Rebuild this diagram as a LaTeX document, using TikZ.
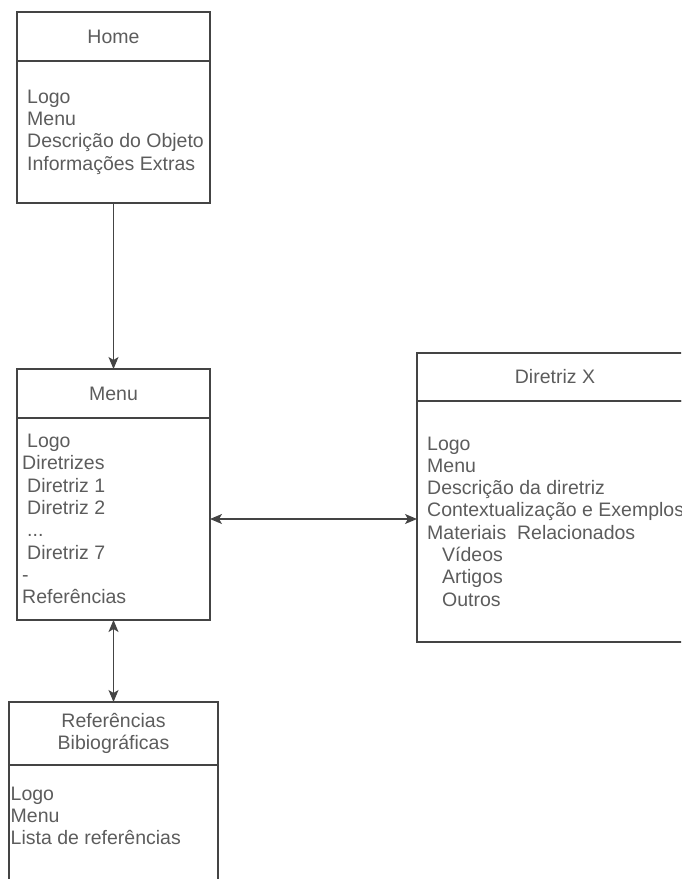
\documentclass[tikz,border=0pt]{standalone}
\usepackage{fontspec}
\setmainfont{Liberation Sans}
\usepackage{xcolor}
\usepackage{tikz}
\usetikzlibrary{arrows.meta,positioning}

\definecolor{linegray}{RGB}{68,68,68}
\definecolor{textgray}{RGB}{92,92,92}
\newcommand{\pagefont}{\fontsize{19.5}{22.3}\selectfont}
\newcommand{\ind}[1]{\hspace*{#1}}

\tikzset{
    pagehead/.style={draw=linegray, line width=1.2pt, outer sep=0pt, inner sep=0pt, align=center, text=textgray, font=\pagefont},
    pagebody/.style={draw=linegray, line width=1.2pt, outer sep=0pt, inner sep=0pt},
    pagetext/.style={align=left, inner sep=0pt, text=textgray, font=\pagefont},
    link/.style={draw=linegray, line width=1.2pt, -{Stealth[length=12pt, width=10pt, inset=3pt]}},
    bilink/.style={link, {Stealth[length=12pt, width=10pt, inset=3pt]}-{Stealth[length=12pt, width=10pt, inset=3pt]}}
}

\begin{document}
\begin{tikzpicture}[x=1pt, y=-1pt]
    \useasboundingbox (0,0) rectangle (681,879);
    \clip (0,0) rectangle (681,879);

    % Home Page
    \node[pagehead, minimum width=193pt, minimum height=49pt] (home_head) at (113.5,36.5) {Home};
    \node[pagebody, minimum width=193pt, minimum height=142pt, below=0pt of home_head] (home_body) {};
    \node[pagetext, right=10pt of home_body.west] (home_text) {
        Logo\\
        Menu\\
        Descrição do Objeto\\
        Informações Extras
    };

    % Menu Page
    \node[pagehead, minimum width=193pt, minimum height=49pt] (menu_head) at (113.5,393.5) {Menu};
    \node[pagebody, minimum width=193pt, minimum height=202pt, below=0pt of menu_head] (menu_body) {};
    \node[pagetext, right=5pt of menu_body.west] (menu_text) {
        \ind{5pt}Logo\\
        Diretrizes\\
        \ind{5pt}Diretriz 1\\
        \ind{5pt}Diretriz 2\\
        \ind{5pt}...\\
        \ind{5pt}Diretriz 7\\
        -\\
        Referências
    };

    % Diretriz Page
    \node[pagehead, minimum width=276pt, minimum height=48pt] (dir_head) at (555,377) {Diretriz X};
    \node[pagebody, minimum width=276pt, minimum height=241pt, below=0pt of dir_head] (dir_body) {};
    \node[pagetext, right=10pt of dir_body.west] (dir_text) {
        Logo\\
        Menu\\
        Descrição da diretriz\\
        Contextualização e Exemplos\\
        Materiais\ \ Relacionados\\
        \ind{15pt}Vídeos\\
        \ind{15pt}Artigos\\
        \ind{15pt}Outros
    };

    % References Page
    \node[pagehead, minimum width=209pt, minimum height=63pt] (refs_head) at (113.5,733.5) {Referências\\Bibiográficas};
    \node[pagebody, minimum width=209pt, minimum height=140pt, below=0pt of refs_head] (refs_body) {};
    \node[pagetext, below right=21.7pt and 1.5pt of refs_body.north west] (refs_text) {
        Logo\\
        Menu\\
        Lista de referências
    };

    % Links
    \draw[link] (home_body) -- (menu_head);
    \draw[bilink] (menu_body.east) -- (menu_body.east -| dir_body.west);
    \draw[bilink] (menu_body) -- (refs_head);
\end{tikzpicture}
\end{document}
